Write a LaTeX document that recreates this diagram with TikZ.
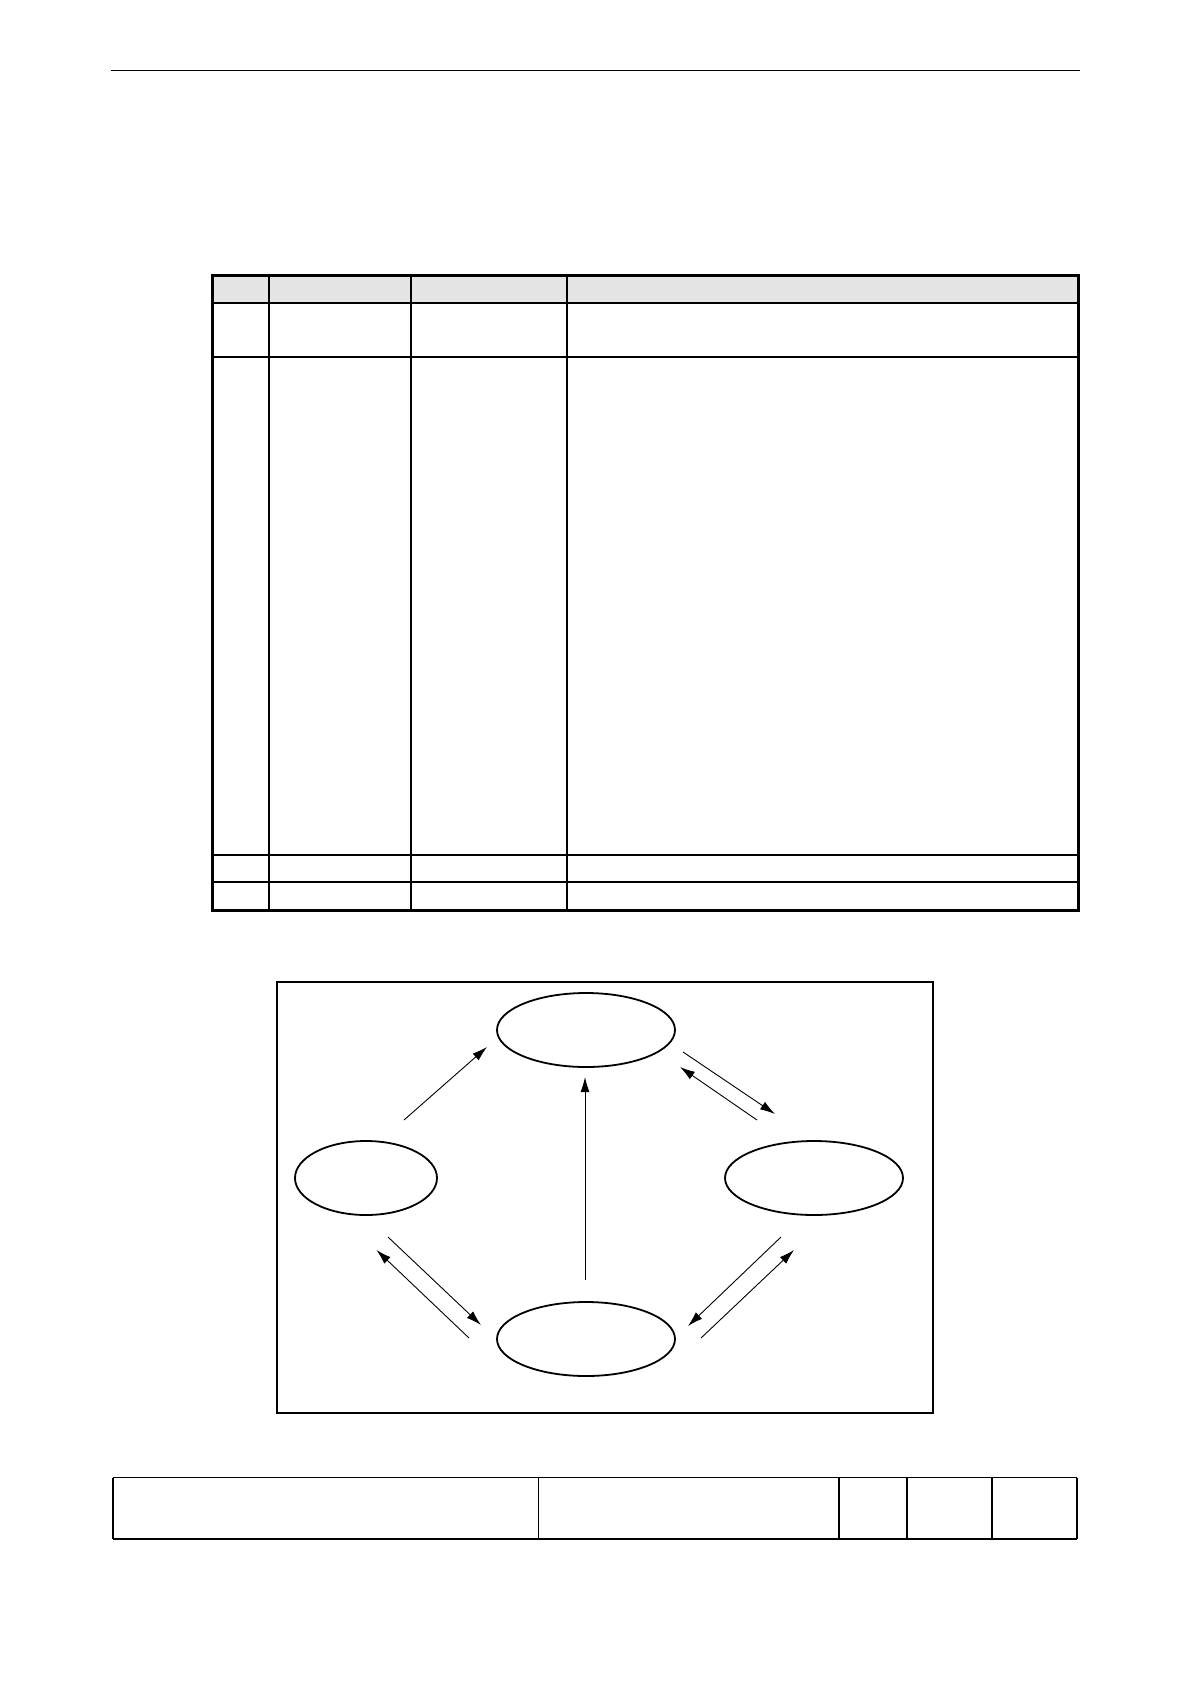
\documentclass[tikz,border=0pt]{standalone}
\usetikzlibrary{shapes.geometric,arrows.meta}
\begin{document}
\begin{tikzpicture}[x=1pt,y=-1pt,
  state/.style={ellipse,draw,line width=1.8pt,inner sep=0pt,minimum height=74pt},
  conn/.style={line width=0.9pt,-{Latex[length=15pt,width=9pt]}},
  rowline/.style={line width=1.1pt},
  colthin/.style={line width=1.2pt},
  colthick/.style={line width=2pt}]
\useasboundingbox (0,0) rectangle (1190,1684);
\fill[white] (0,0) rectangle (1190,1684);
% page header rule
\draw[line width=1.2pt] (111,70.7) -- (1080,70.7);
% table
\fill[black!10] (212,275) rectangle (1078,303);
\draw[line width=2.5pt] (212,303) -- (1078,303);
\draw[line width=1.7pt] (212,357) -- (1078,357);
\draw[rowline] (212,855) -- (1078,855);
\draw[rowline] (212,882) -- (1078,882);
\draw[colthin] (269,275) -- (269,910);
\draw[colthick] (411,275) -- (411,910);
\draw[colthick] (567,275) -- (567,910);
\draw[line width=3pt] (212,275) rectangle (1078,910);
% diagram frame
\draw[line width=1.6pt] (277,982) rectangle (933,1413);
\node[state,minimum width=178pt] (top) at (586,1030) {};
\node[state,minimum width=142pt] (left) at (366,1178) {};
\node[state,minimum width=178pt] (right) at (814,1178) {};
\node[state,minimum width=178pt] (bottom) at (586,1339) {};
% arrow end points
\coordinate (lt1) at (404,1120);  \coordinate (lt2) at (487,1047);
\coordinate (bt1) at (585,1280);  \coordinate (bt2) at (585,1077);
\coordinate (tr1) at (683,1052);  \coordinate (tr2) at (775,1114);
\coordinate (rt1) at (757,1120);  \coordinate (rt2) at (680,1067);
\coordinate (lb1) at (388,1237);  \coordinate (lb2) at (481,1325);
\coordinate (bl1) at (469,1338);  \coordinate (bl2) at (376.5,1250);
\coordinate (rb1) at (781,1237);  \coordinate (rb2) at (688,1326);
\coordinate (br1) at (701,1338);  \coordinate (br2) at (794,1250);
\draw[conn] (lt1) -- (lt2);
\draw[conn] (bt1) -- (bt2);
\draw[conn] (tr1) -- (tr2);
\draw[conn] (rt1) -- (rt2);
\draw[conn] (lb1) -- (lb2);
\draw[conn] (bl1) -- (bl2);
\draw[conn] (rb1) -- (rb2);
\draw[conn] (br1) -- (br2);
% footer table
\draw[line width=1.8pt] (113,1477.5) -- (1077,1477.5);
\draw[line width=2.4pt] (113,1538.7) -- (1077,1538.7);
\draw[line width=1.3pt] (113,1477.5) -- (113,1538.7);
\draw[line width=1.3pt] (1077,1477.5) -- (1077,1538.7);
\draw[line width=1pt] (538,1477.5) -- (538,1538.7);
\draw[line width=1.8pt] (839,1477.5) -- (839,1538.7);
\draw[line width=1.8pt] (907,1477.5) -- (907,1538.7);
\draw[line width=1.2pt] (992,1477.5) -- (992,1538.7);
\end{tikzpicture}
\end{document}
